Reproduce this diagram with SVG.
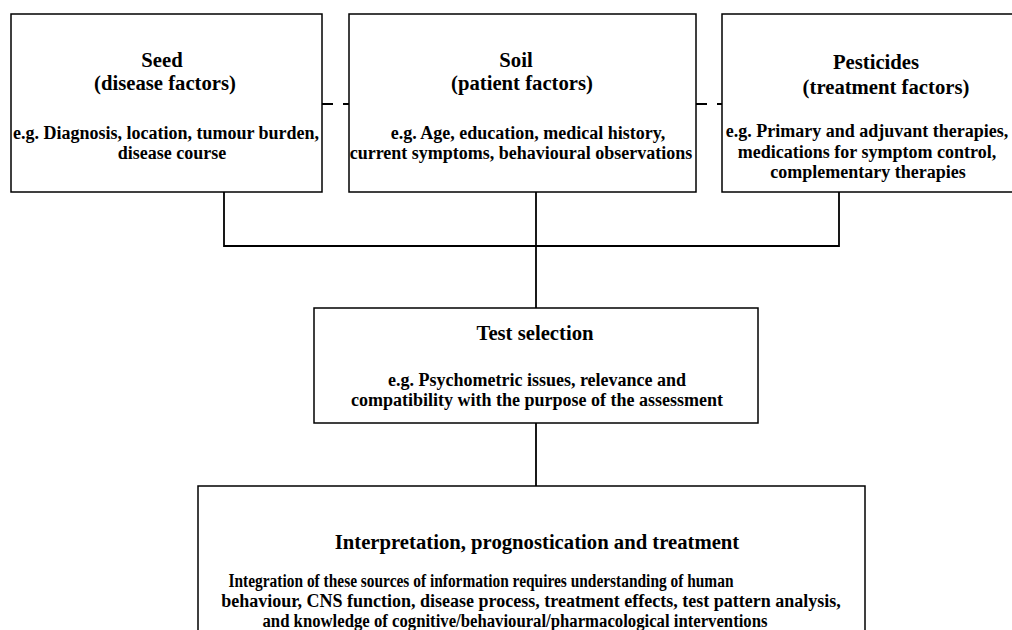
<svg xmlns="http://www.w3.org/2000/svg" width="1012" height="630" viewBox="0 0 1012 630">
<style>
.box{fill:#fff;stroke:#000;stroke-width:1.5}
.ln{fill:none;stroke:#000;stroke-width:1.8}
.dash{fill:none;stroke:#000;stroke-width:1.8;stroke-dasharray:11 10}
text{font-family:"Liberation Serif","Times New Roman",serif;font-weight:bold;fill:#000;text-anchor:middle}
.t{font-size:20.7px}
.b{font-size:18px}
</style>
<rect width="1012" height="630" fill="#fff"/>
<g id="connectors">
<path class="dash" d="M322,104 H349"/>
<path class="dash" d="M696,104 H722"/>
<path class="ln" d="M224,192 V246 H839 V192"/>
<path class="ln" d="M536,192 V308"/>
<path class="ln" d="M536,423 V486"/>
</g>
<g id="seed">
<rect class="box" x="11" y="14" width="311" height="178"/>
<text class="t" x="162" y="67">Seed</text>
<text class="t" x="165" y="90">(disease factors)</text>
<text class="b" x="166" y="139">e.g. Diagnosis, location, tumour burden,</text>
<text class="b" x="172" y="159">disease course</text>
</g>
<g id="soil">
<rect class="box" x="349" y="14" width="347" height="178"/>
<text class="t" x="516" y="67">Soil</text>
<text class="t" x="522" y="90">(patient factors)</text>
<text class="b" x="528" y="139">e.g. Age, education, medical history,</text>
<text class="b" x="521" y="159">current symptoms, behavioural observations</text>
</g>
<g id="pesticides">
<rect class="box" x="722" y="14" width="310" height="178"/>
<text class="t" x="876" y="69">Pesticides</text>
<text class="t" x="886" y="94">(treatment factors)</text>
<text class="b" x="867" y="137">e.g. Primary and adjuvant therapies,</text>
<text class="b" x="867" y="158">medications for symptom control,</text>
<text class="b" x="868" y="178">complementary therapies</text>
</g>
<g id="test-selection">
<rect class="box" x="314" y="308" width="444" height="115"/>
<text class="t" x="535" y="340">Test selection</text>
<text class="b" x="537" y="386">e.g. Psychometric issues, relevance and</text>
<text class="b" x="537" y="406">compatibility with the purpose of the assessment</text>
</g>
<g id="interpretation">
<rect class="box" x="198" y="486" width="667" height="160"/>
<text class="t" x="537" y="549">Interpretation, prognostication and treatment</text>
<text class="b" x="481" y="587" textLength="505" lengthAdjust="spacingAndGlyphs">Integration of these sources of information requires understanding of human</text>
<text class="b" x="531" y="607">behaviour, CNS function, disease process, treatment effects, test pattern analysis,</text>
<text class="b" x="515" y="627" textLength="505" lengthAdjust="spacingAndGlyphs">and knowledge of cognitive/behavioural/pharmacological interventions</text>
</g>
</svg>
